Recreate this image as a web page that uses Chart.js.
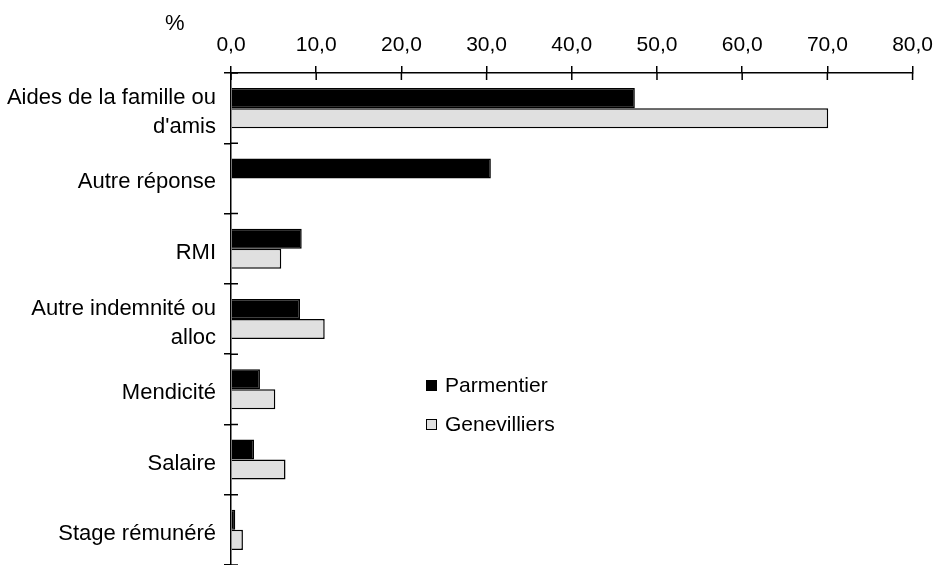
<!DOCTYPE html>
<html>
<head>
<meta charset="utf-8">
<script src="https://cdn.jsdelivr.net/npm/chart.js@4"></script>
<style>
  html, body { margin: 0; padding: 0; background: #fff; }
  #wrap { position: relative; width: 941px; height: 565px; overflow: hidden; }
  #unit { position: absolute; left: 165px; top: 10px; font: 22px "Liberation Sans", Arial, sans-serif; color: #000; }
  #legend { position: absolute; left: 426px; top: 373px; font: 21px "Liberation Sans", Arial, sans-serif; color: #000; }
  #legend div { height: 24px; margin-bottom: 15px; display: flex; align-items: center; }
  #legend span.box { width: 9px; height: 9px; border: 1.5px solid #000; margin-right: 8px; display: inline-block; }
</style>
</head>
<body>
<div id="wrap">
  <canvas id="chart" width="941" height="565"></canvas>
  <div id="unit">%</div>
  <div id="legend"></div>
</div>
<script>
// ── data ──────────────────────────────────────────────────────────────────────
const categories = [
  ['Aides de la famille ou', "d'amis"],
  'Autre réponse',
  'RMI',
  ['Autre indemnité ou', 'alloc'],
  'Mendicité',
  'Salaire',
  'Stage rémunéré',
];
const parmentier   = [47.4, 30.5, 8.3, 8.1, 3.4, 2.7, 0.5];
const genevilliers = [70.1, 0,    5.9, 11.0, 5.2, 6.4, 1.4];
const seriesNames  = ['Parmentier', 'Genevilliers'];
const xTicks       = [0, 10, 20, 30, 40, 50, 60, 70, 80];

const FONT_X = { family: '"Liberation Sans", Arial, sans-serif', size: 21 };
const FONT_Y = { family: '"Liberation Sans", Arial, sans-serif', size: 22, lineHeight: 1.32 };
const colors = ['#000000', '#e0e0e0'];

// Tick marks cross the axis line: Chart.js draws the outer half, this draws the inner half.
const innerTicks = {
  id: 'innerTicks',
  afterDraw(chart) {
    const { ctx, scales: { x, y } } = chart;
    ctx.save();
    ctx.strokeStyle = '#000';
    ctx.lineWidth = 1.5;
    ctx.beginPath();
    xTicks.forEach(v => {
      const px = x.getPixelForValue(v);
      ctx.moveTo(px, y.top);
      ctx.lineTo(px, y.top + 7);
    });
    const n = categories.length;
    for (let i = 0; i <= n; i++) {
      const py = y.top + i * (y.height / n);
      ctx.moveTo(x.left, py);
      ctx.lineTo(x.left + 7, py);
    }
    ctx.stroke();
    ctx.restore();
  },
};

new Chart(document.getElementById('chart'), {
  type: 'bar',
  data: {
    labels: categories,
    datasets: [parmentier, genevilliers].map((d, i) => ({
      label: seriesNames[i],
      data: d,
      backgroundColor: colors[i],
      borderColor: '#000',
      borderWidth: 1.5,
      borderSkipped: 'start',
      categoryPercentage: 0.57,
      barPercentage: 1.0,
    })),
  },
  options: {
    indexAxis: 'y',
    responsive: false,
    animation: false,
    layout: { autoPadding: false, padding: { left: 0, right: 27, top: 0, bottom: 0 } },
    plugins: {
      legend:  { display: false },
      tooltip: { enabled: false },
    },
    scales: {
      x: {
        position: 'top',
        min: 0,
        max: 80,
        afterBuildTicks: s => { s.ticks = xTicks.map(v => ({ value: v })); },
        afterFit: s => { s.height = 73; },
        border: { color: '#000', width: 1.5 },
        grid: { drawOnChartArea: false, tickLength: 7, color: '#000', lineWidth: 1.5 },
        ticks: {
          color: '#000',
          font: FONT_X,
          padding: 8,
          maxRotation: 0,
          callback: v => v.toFixed(1).replace('.', ','),
        },
      },
      y: {
        afterFit: s => { s.width = 231; s.paddingTop = 0; s.paddingBottom = 0; },
        border: { color: '#000', width: 1.5 },
        grid: { drawOnChartArea: false, tickLength: 7, color: '#000', lineWidth: 1.5, offset: true },
        ticks: { color: '#000', font: FONT_Y, padding: 8, labelOffset: 4 },
      },
    },
  },
  plugins: [innerTicks],
});

// legend inside the plot
const legendEl = document.getElementById('legend');
seriesNames.forEach((name, i) => {
  const row = document.createElement('div');
  row.innerHTML = `<span class="box" style="background:${colors[i]}"></span>${name}`;
  legendEl.appendChild(row);
});
</script>
</body>
</html>
